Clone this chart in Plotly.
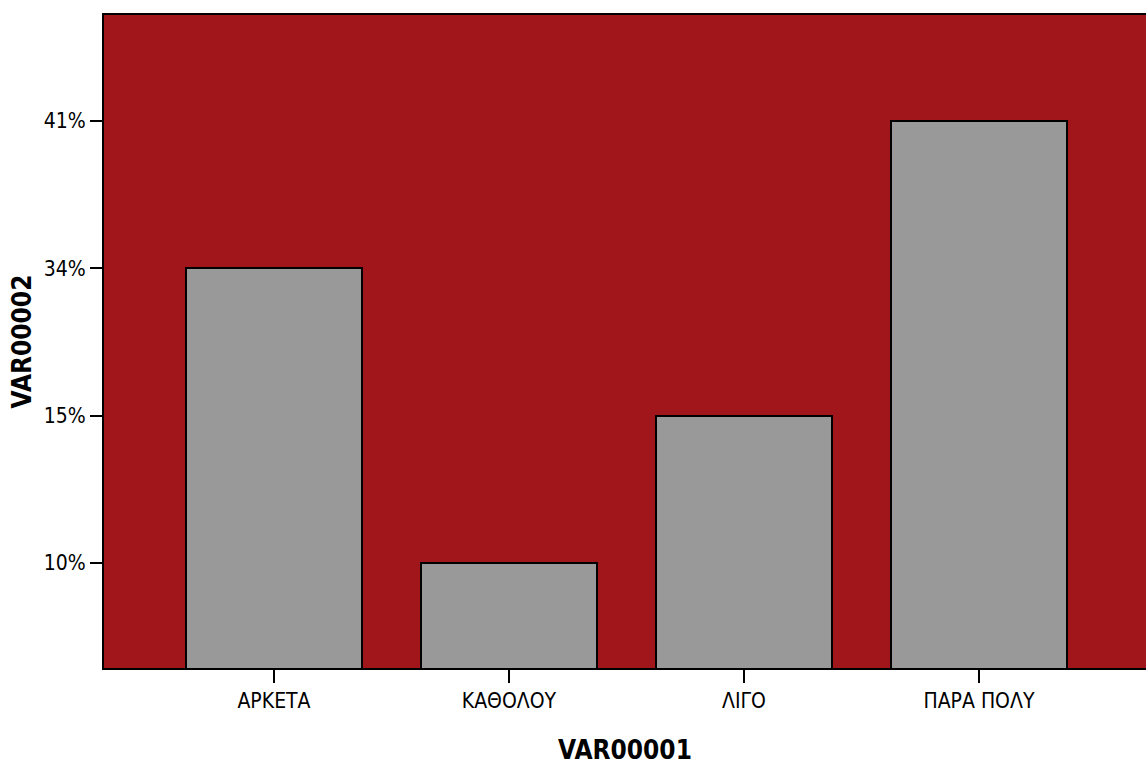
import plotly.graph_objects as go

categories = ["ΑΡΚΕΤΑ", "ΚΑΘΟΛΟΥ", "ΛΙΓΟ", "ΠΑΡΑ ΠΟΛΥ"]
values = [34, 10, 15, 41]  # percentages

# SPSS-style ordinal percentage axis: each distinct value gets its own evenly spaced level
levels = sorted(set(values))
level_pos = {v: i + 1 for i, v in enumerate(levels)}
bar_heights = [level_pos[v] for v in values]
tick_text = [f"{v}%" for v in levels]

FONT = "DejaVu Sans Condensed, Liberation Sans Narrow, Arial Narrow, Liberation Sans, Arial, sans-serif"

fig = go.Figure(
    go.Bar(
        x=list(range(len(categories))),
        y=bar_heights,
        width=0.749,
        marker=dict(color="#999999", line=dict(color="#000000", width=2)),
        hovertext=[f"{c}: {v}%" for c, v in zip(categories, values)],
    )
)

fig.update_layout(
    width=1146,
    height=765,
    margin=dict(l=104, r=0, t=15, b=97),
    paper_bgcolor="#ffffff",
    plot_bgcolor="#A0161A",
    showlegend=False,
    font=dict(family=FONT, size=21, color="#000000"),
    bargap=0,
)

fig.update_xaxes(
    range=[-0.7234, 3.711],
    tickvals=list(range(len(categories))),
    ticktext=categories,
    ticks="outside",
    ticklen=13,
    tickwidth=2,
    tickcolor="#000000",
    showline=True,
    linecolor="#000000",
    linewidth=2,
    mirror=True,
    showgrid=False,
    zeroline=False,
    tickfont=dict(family=FONT, size=21),
    title=dict(text="<b>VAR00001</b>", font=dict(family=FONT, size=26), standoff=29),
)

fig.update_yaxes(
    range=[0.287, 4.72],
    tickvals=list(range(1, len(levels) + 1)),
    ticktext=tick_text,
    ticks="outside",
    ticklen=12,
    tickwidth=2,
    tickcolor="#000000",
    showline=True,
    linecolor="#000000",
    linewidth=2,
    mirror=False,
    showgrid=False,
    zeroline=False,
    tickfont=dict(family=FONT, size=21),
    title=dict(text="<b>VAR00002</b>", font=dict(family=FONT, size=26), standoff=5),
)

fig.write_html(
    "out.html",
    config={"displayModeBar": False},
    post_script="document.body.style.margin='0';document.body.style.overflow='hidden';",
)
